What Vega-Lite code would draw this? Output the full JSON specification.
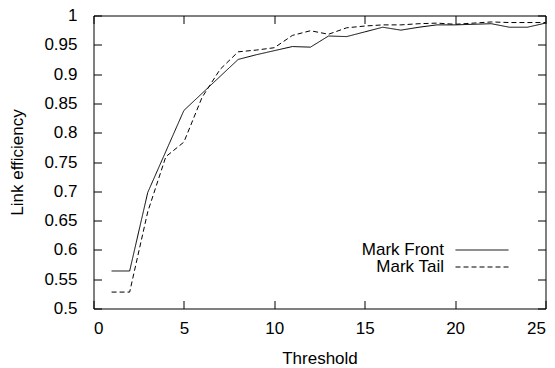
{
  "$schema": "https://vega.github.io/schema/vega-lite/v6.json",
  "autosize": "none",
  "width": 452,
  "height": 293,
  "padding": {"left": 93.5, "top": 15.5, "right": 9.5, "bottom": 59.5},
  "background": "white",
  "config": {
    "view": {"stroke": "black", "strokeWidth": 1},
    "font": "Liberation Sans",
    "axis": {
      "labelFont": "Liberation Sans",
      "titleFont": "Liberation Sans",
      "labelFontSize": 17,
      "titleFontSize": 17,
      "titleFontWeight": "normal",
      "labelColor": "black",
      "titleColor": "black",
      "tickColor": "black",
      "domain": false,
      "grid": false,
      "tickSize": -8
    }
  },
  "data": {
    "values": [
      {"t": 1, "v": 0.564, "s": "Mark Front"},
      {"t": 2, "v": 0.564, "s": "Mark Front"},
      {"t": 3, "v": 0.698, "s": "Mark Front"},
      {"t": 4, "v": 0.768, "s": "Mark Front"},
      {"t": 5, "v": 0.838, "s": "Mark Front"},
      {"t": 6, "v": 0.867, "s": "Mark Front"},
      {"t": 7, "v": 0.896, "s": "Mark Front"},
      {"t": 8, "v": 0.925, "s": "Mark Front"},
      {"t": 9, "v": 0.933, "s": "Mark Front"},
      {"t": 10, "v": 0.94, "s": "Mark Front"},
      {"t": 11, "v": 0.947, "s": "Mark Front"},
      {"t": 12, "v": 0.946, "s": "Mark Front"},
      {"t": 13, "v": 0.965, "s": "Mark Front"},
      {"t": 14, "v": 0.964, "s": "Mark Front"},
      {"t": 15, "v": 0.972, "s": "Mark Front"},
      {"t": 16, "v": 0.98, "s": "Mark Front"},
      {"t": 17, "v": 0.975, "s": "Mark Front"},
      {"t": 18, "v": 0.98, "s": "Mark Front"},
      {"t": 19, "v": 0.984, "s": "Mark Front"},
      {"t": 20, "v": 0.984, "s": "Mark Front"},
      {"t": 21, "v": 0.985, "s": "Mark Front"},
      {"t": 22, "v": 0.986, "s": "Mark Front"},
      {"t": 23, "v": 0.98, "s": "Mark Front"},
      {"t": 24, "v": 0.98, "s": "Mark Front"},
      {"t": 25, "v": 0.987, "s": "Mark Front"},
      {"t": 1, "v": 0.528, "s": "Mark Tail"},
      {"t": 2, "v": 0.528, "s": "Mark Tail"},
      {"t": 3, "v": 0.665, "s": "Mark Tail"},
      {"t": 4, "v": 0.759, "s": "Mark Tail"},
      {"t": 5, "v": 0.784, "s": "Mark Tail"},
      {"t": 6, "v": 0.86, "s": "Mark Tail"},
      {"t": 7, "v": 0.908, "s": "Mark Tail"},
      {"t": 8, "v": 0.938, "s": "Mark Tail"},
      {"t": 9, "v": 0.941, "s": "Mark Tail"},
      {"t": 10, "v": 0.945, "s": "Mark Tail"},
      {"t": 11, "v": 0.966, "s": "Mark Tail"},
      {"t": 12, "v": 0.974, "s": "Mark Tail"},
      {"t": 13, "v": 0.968, "s": "Mark Tail"},
      {"t": 14, "v": 0.979, "s": "Mark Tail"},
      {"t": 15, "v": 0.982, "s": "Mark Tail"},
      {"t": 16, "v": 0.984, "s": "Mark Tail"},
      {"t": 17, "v": 0.984, "s": "Mark Tail"},
      {"t": 18, "v": 0.986, "s": "Mark Tail"},
      {"t": 19, "v": 0.987, "s": "Mark Tail"},
      {"t": 20, "v": 0.985, "s": "Mark Tail"},
      {"t": 21, "v": 0.987, "s": "Mark Tail"},
      {"t": 22, "v": 0.989, "s": "Mark Tail"},
      {"t": 23, "v": 0.988, "s": "Mark Tail"},
      {"t": 24, "v": 0.988, "s": "Mark Tail"},
      {"t": 25, "v": 0.988, "s": "Mark Tail"}
    ]
  },
  "layer": [
    {
      "mark": {"type": "line", "color": "black", "strokeWidth": 1},
      "encoding": {
        "x": {
          "field": "t", "type": "quantitative",
          "scale": {"domain": [0, 25], "nice": false},
          "axis": {"values": [0, 5, 10, 15, 20, 25], "title": "Threshold", "labelPadding": 20, "titlePadding": 14, "format": "d"}
        },
        "y": {
          "field": "v", "type": "quantitative",
          "scale": {"domain": [0.5, 1], "nice": false, "zero": false},
          "axis": {"values": [0.5, 0.55, 0.6, 0.65, 0.7, 0.75, 0.8, 0.85, 0.9, 0.95, 1], "format": "~g", "title": "Link efficiency", "labelPadding": 24.5, "titlePadding": 17}
        },
        "strokeDash": {
          "field": "s", "type": "nominal",
          "scale": {"domain": ["Mark Front", "Mark Tail"], "range": [[1, 0], [5, 3]]},
          "legend": {
            "title": null,
            "orient": "none",
            "legendX": 380,
            "legendY": 226,
            "symbolType": "M-3.3125,0H3.3125",
            "symbolSize": 256,
            "symbolStrokeWidth": 1,
            "symbolStrokeColor": "black",
            "labelFont": "Liberation Sans",
            "labelFontSize": 17,
            "labelColor": "black",
            "labelAlign": "right",
            "labelOffset": -46.5,
            "rowPadding": -4,
            "labelLimit": 200
          }
        }
      }
    },
    {
      "mark": {"type": "line", "opacity": 0},
      "encoding": {
        "x": {
          "field": "t", "type": "quantitative",
          "axis": {"orient": "top", "values": [0, 5, 10, 15, 20, 25], "labels": false, "title": null}
        },
        "y": {
          "field": "v", "type": "quantitative",
          "axis": {"orient": "right", "values": [0.5, 0.55, 0.6, 0.65, 0.7, 0.75, 0.8, 0.85, 0.9, 0.95, 1], "labels": false, "title": null}
        },
        "detail": {"field": "s", "type": "nominal"}
      }
    }
  ],
  "resolve": {"axis": {"x": "independent", "y": "independent"}}
}
